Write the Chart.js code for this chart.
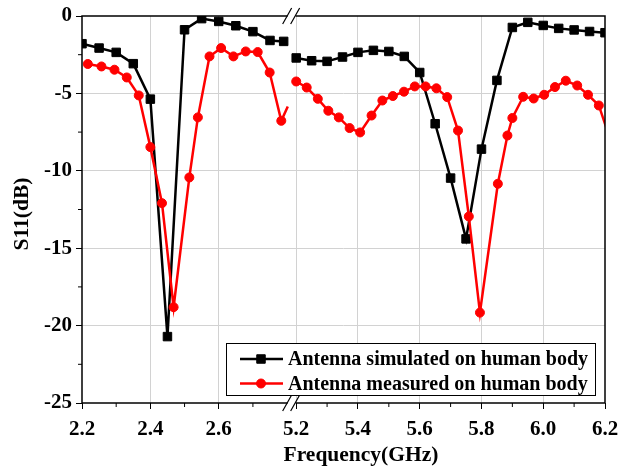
<!DOCTYPE html>
<html>
<head>
<meta charset="utf-8">
<script src="https://cdn.jsdelivr.net/npm/chart.js@4.4.0/dist/chart.umd.min.js"></script>
<style>
  html, body { margin: 0; padding: 0; background: #fff; }
</style>
</head>
<body>
<canvas id="s11Chart" width="620" height="469"></canvas>
<script>
// simulated S11 (black squares)
var simFreq = [2.2, 2.25, 2.3, 2.35, 2.4, 2.45, 2.5, 2.55, 2.6, 2.65, 2.7, 2.75, 2.79,
  5.2, 5.25, 5.3, 5.35, 5.4, 5.45, 5.5, 5.55, 5.6, 5.65, 5.7, 5.75, 5.8, 5.85, 5.9, 5.95, 6.0, 6.05, 6.1, 6.15, 6.2];
var simS11 = [-1.79, -2.07, -2.35, -3.08, -5.37, -20.71, -0.89, -0.17, -0.35, -0.63, -1.01, -1.58, -1.64,
  -2.71, -2.89, -2.93, -2.65, -2.35, -2.22, -2.29, -2.61, -3.65, -6.96, -10.47, -14.40, -8.60, -4.16, -0.74, -0.41, -0.61, -0.80, -0.90, -1.00, -1.08];

// measured S11 (red circles)
var measFreq = [2.217, 2.257, 2.295, 2.331, 2.366, 2.400, 2.434, 2.468, 2.514, 2.539, 2.573, 2.607, 2.643, 2.679, 2.714, 2.749, 2.783, 2.802,
  5.200, 5.234, 5.270, 5.304, 5.338, 5.373, 5.407, 5.444, 5.479, 5.513, 5.549, 5.584, 5.619, 5.654, 5.689, 5.724, 5.759, 5.795,
  5.853, 5.884, 5.900, 5.935, 5.969, 6.003, 6.038, 6.073, 6.110, 6.145, 6.180, 6.214];
var measS11 = [-3.10, -3.26, -3.47, -3.97, -5.13, -8.47, -12.09, -18.81, -10.43, -6.55, -2.61, -2.07, -2.61, -2.29, -2.33, -3.65, -6.77, -5.84,
  -4.23, -4.62, -5.35, -6.12, -6.55, -7.24, -7.52, -6.43, -5.46, -5.17, -4.89, -4.55, -4.55, -4.67, -5.24, -7.40, -12.95, -19.16,
  -10.84, -7.72, -6.59, -5.22, -5.33, -5.09, -4.59, -4.18, -4.49, -5.09, -5.78, -7.80];

var xTickFreq = [2.2, 2.4, 2.6, 5.2, 5.4, 5.6, 5.8, 6.0, 6.2];
var xTickLabels = ['2.2', '2.4', '2.6', '5.2', '5.4', '5.6', '5.8', '6.0', '6.2'];
var xMinorFreq = [2.3, 2.5, 2.7, 5.3, 5.5, 5.7, 5.9, 6.1];
var yMinor = [-2.5, -7.5, -12.5, -17.5, -22.5];

var seriesLabels = ['Antenna simulated on human body', 'Antenna measured on human body'];
var xTitle = 'Frequency(GHz)';
var yTitle = 'S11(dB)';

// broken frequency axis: 2.2-2.8 and 5.2-6.2 share one linear scale
function axisPos(f) {
  return f < 4 ? (f - 2.2) * 341.5 : 214 + (f - 5.2) * 308.5;
}
var AXIS_MAX = axisPos(6.2);
var BREAK_POS = (axisPos(2.8) + axisPos(5.2)) / 2;

function toPoints(freqs, vals) {
  var pts = [];
  for (var i = 0; i < freqs.length; i++) {
    if (i > 0 && freqs[i - 1] < 4 && freqs[i] > 4) pts.push({x: BREAK_POS, y: null});
    pts.push({x: axisPos(freqs[i]), y: vals[i]});
  }
  return pts;
}

var FONT = 'Liberation Serif';

// no marker for points that only carry the line up to the break / past the right edge
function hiddenRadius(r) {
  return function(ctx) {
    var p = ctx.raw;
    if (!p) return r;
    return (p.x > axisPos(2.8) && p.x < BREAK_POS) || p.x > AXIS_MAX ? 0 : r;
  };
}

var framePlugin = {
  id: 'frame',
  afterDraw: function(chart) {
    var ctx = chart.ctx, a = chart.chartArea;
    var xs = chart.scales.x, ys = chart.scales.y;
    ctx.save();
    ctx.strokeStyle = '#000';
    ctx.lineWidth = 1.5;
    ctx.strokeRect(a.left, a.top, a.right - a.left, a.bottom - a.top);

    // minor ticks
    ctx.lineWidth = 1;
    ctx.beginPath();
    xMinorFreq.forEach(function(f) {
      var px = xs.getPixelForValue(axisPos(f));
      ctx.moveTo(px, a.bottom); ctx.lineTo(px, a.bottom + 4);
    });
    yMinor.forEach(function(v) {
      var py = ys.getPixelForValue(v);
      ctx.moveTo(a.left - 4, py); ctx.lineTo(a.left, py);
    });
    ctx.stroke();

    // axis break marks
    var bx = xs.getPixelForValue(BREAK_POS);
    [a.top, a.bottom].forEach(function(y) {
      ctx.fillStyle = '#fff';
      ctx.fillRect(bx - 4, y - 2, 8, 4);
      ctx.beginPath();
      ctx.moveTo(bx - 9, y + 8); ctx.lineTo(bx, y - 8);
      ctx.moveTo(bx - 1, y + 8); ctx.lineTo(bx + 8, y - 8);
      ctx.lineWidth = 1.2;
      ctx.stroke();
    });

    // axis titles
    ctx.fillStyle = '#000';
    ctx.font = 'bold 21.5px "' + FONT + '"';
    ctx.textAlign = 'center';
    ctx.textBaseline = 'middle';
    ctx.fillText(xTitle, 361, 455);
    ctx.save();
    ctx.translate(22, 214);
    ctx.rotate(-Math.PI / 2);
    ctx.fillText(yTitle, 0, 0);
    ctx.restore();

    // legend box
    var lx = 226, ly = 343, lw = 369, lh = 52;
    ctx.fillStyle = '#fff';
    ctx.fillRect(lx, ly, lw, lh);
    ctx.lineWidth = 1;
    ctx.strokeRect(lx + 0.5, ly + 0.5, lw, lh);
    ctx.font = 'bold 20px "' + FONT + '"';
    ctx.textAlign = 'left';
    ctx.textBaseline = 'middle';
    chart.data.datasets.forEach(function(ds, i) {
      var ry = ly + 16 + i * 24.5;
      ctx.strokeStyle = ds.borderColor;
      ctx.lineWidth = ds.borderWidth;
      ctx.beginPath();
      ctx.moveTo(lx + 14, ry); ctx.lineTo(lx + 57, ry);
      ctx.stroke();
      ctx.fillStyle = ds.backgroundColor;
      ctx.strokeStyle = ds.borderColor;
      ctx.lineWidth = ds.pointBorderWidth;
      Chart.helpers.drawPoint(ctx, {pointStyle: ds.pointStyle, radius: ds.legendRadius, rotation: 0, borderWidth: ds.pointBorderWidth}, lx + 35, ry);
      ctx.fillStyle = '#000';
      ctx.fillText(ds.label, lx + 62, ry + 1);
    });
    ctx.restore();
  }
};

var edgeGrid = function(ctx) {
  var v = ctx.tick ? ctx.tick.value : null;
  if (ctx.scale.axis === 'x') return (v <= 0.01 || v >= AXIS_MAX - 0.01) ? 'rgba(0,0,0,0)' : '#d2d2d2';
  return (v === 0 || v === -25) ? 'rgba(0,0,0,0)' : '#d2d2d2';
};

new Chart(document.getElementById('s11Chart'), {
  type: 'line',
  data: {
    datasets: [{
      label: seriesLabels[0],
      data: toPoints(simFreq, simS11),
      borderColor: '#000000',
      backgroundColor: '#000000',
      borderWidth: 2.5,
      pointStyle: 'rect',
      pointRadius: 6,
      legendRadius: 6,
      pointBorderWidth: 1,
      order: 1
    }, {
      label: seriesLabels[1],
      data: toPoints(measFreq, measS11),
      borderColor: '#ff0000',
      backgroundColor: '#ff0000',
      borderWidth: 2.5,
      pointStyle: 'circle',
      pointRadius: hiddenRadius(4.5),
      legendRadius: 4.5,
      pointBorderWidth: 1,
      clip: {left: 8, top: 8, right: 0, bottom: 8},
      order: 0
    }]
  },
  options: {
    responsive: false,
    animation: false,
    devicePixelRatio: 1,
    layout: {padding: {top: 16, right: 15, left: 0, bottom: 0}},
    plugins: {legend: {display: false}, tooltip: {enabled: false}},
    scales: {
      x: {
        type: 'linear',
        min: 0,
        max: AXIS_MAX,
        afterBuildTicks: function(scale) {
          scale.ticks = xTickFreq.map(function(f) { return {value: axisPos(f)}; });
        },
        afterFit: function(scale) {
          scale.height = 66;
          scale.paddingLeft = 0;
          scale.paddingRight = 0;
        },
        ticks: {
          autoSkip: false,
          maxRotation: 0,
          padding: 8,
          color: '#000',
          font: {family: FONT, weight: 'bold', size: 21},
          callback: function(v, i) { return xTickLabels[i]; }
        },
        grid: {color: edgeGrid, tickColor: '#000', tickLength: 6, lineWidth: 1},
        border: {display: false}
      },
      y: {
        min: -25,
        max: 0,
        afterFit: function(scale) {
          scale.width = 82;
          scale.paddingTop = 0;
          scale.paddingBottom = 0;
        },
        ticks: {
          stepSize: 5,
          padding: 4,
          color: '#000',
          font: {family: FONT, weight: 'bold', size: 21}
        },
        grid: {color: edgeGrid, tickColor: '#000', tickLength: 6, lineWidth: 1},
        border: {display: false}
      }
    }
  },
  plugins: [framePlugin]
});
</script>
</body>
</html>
